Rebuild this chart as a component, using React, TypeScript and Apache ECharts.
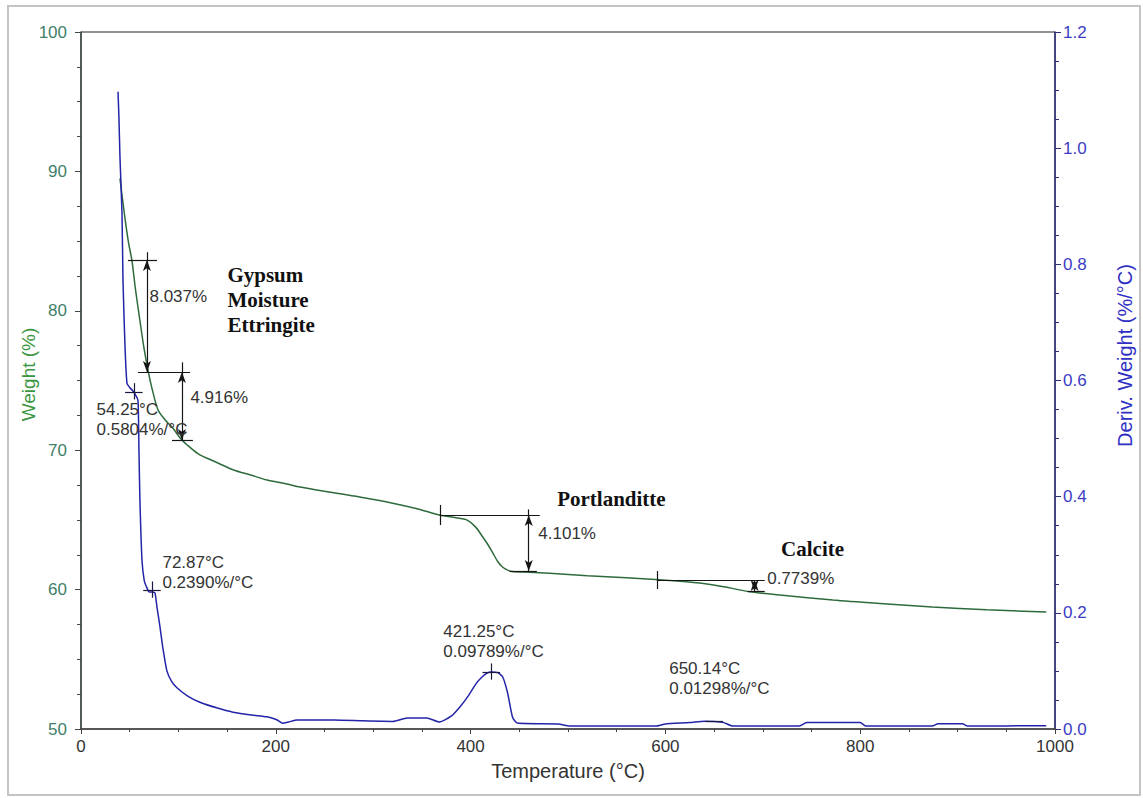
import React, { useEffect, useRef } from "react";
import * as echarts from "echarts";

// Weight curve (°C, %)
const weightT = [40, 43, 46, 49, 52.3, 56, 60.5, 64.5, 68.8, 73, 79, 86, 93.4, 103.6, 112, 122, 132, 140, 156, 175, 191, 210, 225, 250, 286, 320, 345, 368, 385, 396, 405, 412.5, 418, 423, 428, 433, 438, 443, 460, 481, 520, 560, 594, 635, 660, 686.5, 720, 772, 820, 874, 930, 991];
const weightW = [89.5, 87.8, 86.2, 84.8, 83.6, 81.5, 79.3, 77.4, 75.75, 74.4, 72.9, 72.2, 71.66, 70.73, 70.2, 69.66, 69.35, 69.1, 68.6, 68.2, 67.86, 67.6, 67.36, 67.05, 66.64, 66.2, 65.8, 65.35, 65.15, 65.0, 64.5, 63.77, 63.2, 62.6, 62.0, 61.6, 61.4, 61.3, 61.25, 61.17, 61.0, 60.85, 60.7, 60.47, 60.2, 59.85, 59.6, 59.25, 59.0, 58.75, 58.55, 58.4];

// Derivative weight curve (°C, %/°C)
const derivT = [38, 39, 40, 42.1, 43.1, 45.2, 47.2, 50, 53.4, 56, 58.5, 59.5, 60.5, 62.6, 65, 67.7, 70, 72.9, 75.9, 78, 81.1, 84, 88.2, 93, 98.5, 110, 122, 140, 156, 175, 191, 201, 207, 213, 222, 260, 290, 320, 335, 355, 368, 380, 389, 398, 406, 412, 416.6, 421.3, 428, 433, 438, 443, 448, 490, 502, 590, 600, 625, 640, 650.1, 660, 669, 737, 745, 800, 806, 874, 880, 905, 910, 991];
const derivD = [1.097, 1.05, 0.985, 0.888, 0.773, 0.658, 0.595, 0.588, 0.582, 0.575, 0.566, 0.48, 0.394, 0.291, 0.255, 0.243, 0.236, 0.236, 0.234, 0.21, 0.176, 0.14, 0.1, 0.082, 0.071, 0.056, 0.046, 0.036, 0.029, 0.024, 0.021, 0.016, 0.01, 0.012, 0.0155, 0.0155, 0.014, 0.013, 0.019, 0.019, 0.012, 0.022, 0.038, 0.058, 0.079, 0.09, 0.096, 0.098, 0.097, 0.0895, 0.062, 0.0207, 0.0103, 0.0086, 0.005, 0.005, 0.0086, 0.011, 0.0135, 0.013, 0.011, 0.005, 0.005, 0.011, 0.011, 0.005, 0.005, 0.009, 0.009, 0.005, 0.0057];

// Weight-step annotations: plain segments [t1, w1, t2, w2]
const stepLines = [
  [48.2, 83.64, 78.0, 83.64],
  [58.5, 75.61, 111.9, 75.61],
  [67.7, 84.2, 67.7, 83.64],
  [103.6, 76.3, 103.6, 75.61],
  [93.4, 70.73, 114.9, 70.73],
  [368.4, 66.07, 368.4, 64.63],
  [368.4, 65.35, 471, 65.35],
  [459.7, 65.75, 459.7, 65.35],
  [440, 61.33, 468, 61.33],
  [592, 61.33, 592, 60.04],
  [592, 60.69, 702, 60.69],
  [684.5, 59.9, 702, 59.9],
];
// Double-arrow segments [t, wTop, wBottom]
const stepArrows = [
  [67.7, 83.64, 75.61],
  [103.6, 75.61, 70.73],
  [459.7, 65.35, 61.33],
  [691.6, 60.69, 59.9],
];
const stepLabels = ["8.037%", "4.916%", "4.101%", "0.7739%"];
const stepLabelT = [69.8, 111.8, 469, 704];
const stepLabelW = [81.0, 73.8, 64.06, 60.83];

// Phase names
const phaseNames = ["Gypsum", "Moisture", "Ettringite", "Portlanditte", "Calcite"];
const phaseT = [149.8, 149.8, 149.8, 488.4, 718.3];
const phaseW = [82.57, 80.78, 78.98, 66.5, 62.9];

// Derivative peak markers
const peakT = [54.25, 72.87, 421.25, 650.14];
const peakD = [0.5804, 0.239, 0.09789, 0.01298];
const peakLabels = ["54.25°C\n0.5804%/°C", "72.87°C\n0.2390%/°C", "421.25°C\n0.09789%/°C", "650.14°C\n0.01298%/°C"];
const peakLabelT = [15.4, 83.1, 371.5, 603.4];
const peakLabelD = [0.532, 0.27, 0.15, 0.0878];

const SANS = "'Liberation Sans', Arial, sans-serif";
const SERIF = "'Liberation Serif', 'Times New Roman', serif";

export default function App() {
  const ref = useRef<HTMLDivElement>(null);
  useEffect(() => {
    if (!ref.current) return;
    const chart = echarts.init(ref.current, undefined, { renderer: "svg" });
    const annColor = "#151515";

    const lineData: any[] = stepLines.map((s) => [
      { coord: [s[0], s[1]], symbol: "none" },
      { coord: [s[2], s[3]], symbol: "none" },
    ]);
    stepArrows.forEach((a) => {
      lineData.push([
        { coord: [a[0], a[1]], symbol: "arrow", symbolSize: [6, 11] },
        { coord: [a[0], a[2]], symbol: "arrow", symbolSize: [6, 11] },
      ]);
    });

    const crossData: any[] = [];
    peakT.forEach((t, i) => {
      const d = peakD[i];
      crossData.push([
        { coord: [t - 9, d], symbol: "none" },
        { coord: [t + 9, d], symbol: "none" },
      ]);
      crossData.push([
        { coord: [t, d + 0.015], symbol: "none" },
        { coord: [t, d - 0.013], symbol: "none" },
      ]);
    });

    const mkText = (t: number, v: number, txt: string, extra: any) => ({
      coord: [t, v],
      symbol: "circle",
      symbolSize: 1,
      itemStyle: { color: "rgba(0,0,0,0)" },
      label: {
        show: true,
        position: "right",
        distance: 0,
        formatter: txt,
        ...extra,
      },
    });

    const stepTextPoints = stepLabels.map((txt, i) =>
      mkText(stepLabelT[i], stepLabelW[i], txt, { fontFamily: SANS, fontSize: 17, color: "#333" })
    );
    const phasePoints = phaseNames.map((txt, i) =>
      mkText(phaseT[i], phaseW[i], txt, {
        fontFamily: SERIF,
        fontWeight: "bold",
        fontSize: 21,
        color: "#111",
      })
    );
    const peakPoints = peakLabels.map((txt, i) =>
      mkText(peakLabelT[i], peakLabelD[i], txt, {
        fontFamily: SANS,
        fontSize: 17,
        lineHeight: 20,
        color: "#333",
      })
    );

    const option: any = {
      animation: false,
      backgroundColor: "#ffffff",
      graphic: [
        {
          type: "rect",
          silent: true,
          z: -10,
          shape: { x: 8, y: 6, width: 1132, height: 789 },
          style: { fill: "none", stroke: "#c4c4c4", lineWidth: 2 },
        },
      ],
      grid: {
        left: 81,
        right: 88,
        top: 32,
        bottom: 69,
        show: true,
        borderColor: "#222",
        borderWidth: 1,
        backgroundColor: "transparent",
      },
      xAxis: {
        type: "value",
        min: 0,
        max: 1000,
        interval: 200,
        name: "Temperature (°C)",
        nameLocation: "middle",
        nameGap: 32,
        nameMoveOverlap: false,
        nameTextStyle: { fontFamily: SANS, fontSize: 20, color: "#333" },
        axisLine: { show: true, onZero: false, lineStyle: { color: "#444", width: 1.5 } },
        axisTick: { show: true, length: 5, lineStyle: { color: "#444" } },
        minorTick: { show: true, splitNumber: 4, length: 3, lineStyle: { color: "#444" } },
        axisLabel: {
          margin: 9,
          fontFamily: SANS,
          fontSize: 17,
          color: "#333",
          formatter: (v: number) => String(v),
        },
        splitLine: { show: false },
        minorSplitLine: { show: false },
      },
      yAxis: [
        {
          type: "value",
          position: "left",
          min: 50,
          max: 100,
          interval: 10,
          name: "Weight (%)",
          nameLocation: "middle",
          nameGap: 43,
          nameRotate: 90,
          nameMoveOverlap: false,
          nameTextStyle: {
            fontFamily: SANS,
            fontSize: 19,
            color: "#3a9640",
            padding: [0, 0, 0, 12],
          },
          axisLine: { show: true, onZero: false, lineStyle: { color: "#3c4a44", width: 1.5 } },
          axisTick: { show: true, length: 6, lineStyle: { color: "#3c4a44" } },
          minorTick: { show: true, splitNumber: 4, length: 4, lineStyle: { color: "#3c4a44" } },
          axisLabel: { margin: 14, fontFamily: SANS, fontSize: 17, color: "#3f806a" },
          splitLine: { show: false },
        },
        {
          type: "value",
          position: "right",
          min: 0,
          max: 1.2,
          interval: 0.2,
          name: "Deriv. Weight (%/°C)",
          nameLocation: "middle",
          nameGap: 60,
          nameRotate: 90,
          nameMoveOverlap: false,
          nameTextStyle: {
            fontFamily: SANS,
            fontSize: 20,
            color: "#2f2fc4",
            padding: [0, 0, 0, 50],
          },
          axisLine: { show: true, onZero: false, lineStyle: { color: "#2c2c7a", width: 1.5 } },
          axisTick: { show: true, length: 6, lineStyle: { color: "#2c2c7a" } },
          minorTick: { show: true, splitNumber: 4, length: 4, lineStyle: { color: "#2c2c7a" } },
          axisLabel: {
            margin: 8,
            fontFamily: SANS,
            fontSize: 17,
            color: "#3c3cc4",
            formatter: (v: number) => v.toFixed(1),
          },
          splitLine: { show: false },
        },
      ],
      series: [
        {
          name: "Weight",
          type: "line",
          yAxisIndex: 0,
          showSymbol: false,
          symbol: "none",
          smooth: 0.3,
          data: weightT.map((t, i) => [t, weightW[i]]),
          lineStyle: { color: "#2e6b3c", width: 1.5 },
          markLine: {
            silent: true,
            animation: false,
            symbol: ["none", "none"],
            label: { show: false },
            lineStyle: { color: annColor, width: 1.2, type: "solid" },
            emphasis: { disabled: true },
            data: lineData,
          },
          markPoint: {
            silent: true,
            animation: false,
            data: [...stepTextPoints, ...phasePoints],
          },
        },
        {
          name: "Deriv. Weight",
          type: "line",
          yAxisIndex: 1,
          showSymbol: false,
          symbol: "none",
          smooth: 0.2,
          data: derivT.map((t, i) => [t, derivD[i]]),
          lineStyle: { color: "#2424a8", width: 1.5 },
          markLine: {
            silent: true,
            animation: false,
            symbol: ["none", "none"],
            label: { show: false },
            lineStyle: { color: "#1a1a40", width: 1.2, type: "solid" },
            emphasis: { disabled: true },
            data: crossData,
          },
          markPoint: {
            silent: true,
            animation: false,
            data: peakPoints,
          },
        },
      ],
    };
    chart.setOption(option);
    return () => chart.dispose();
  }, []);
  return (
    <div
      ref={ref}
      style={{ position: "absolute", left: 0, top: 0, width: 1143, height: 798, background: "#fff" }}
    />
  );
}
